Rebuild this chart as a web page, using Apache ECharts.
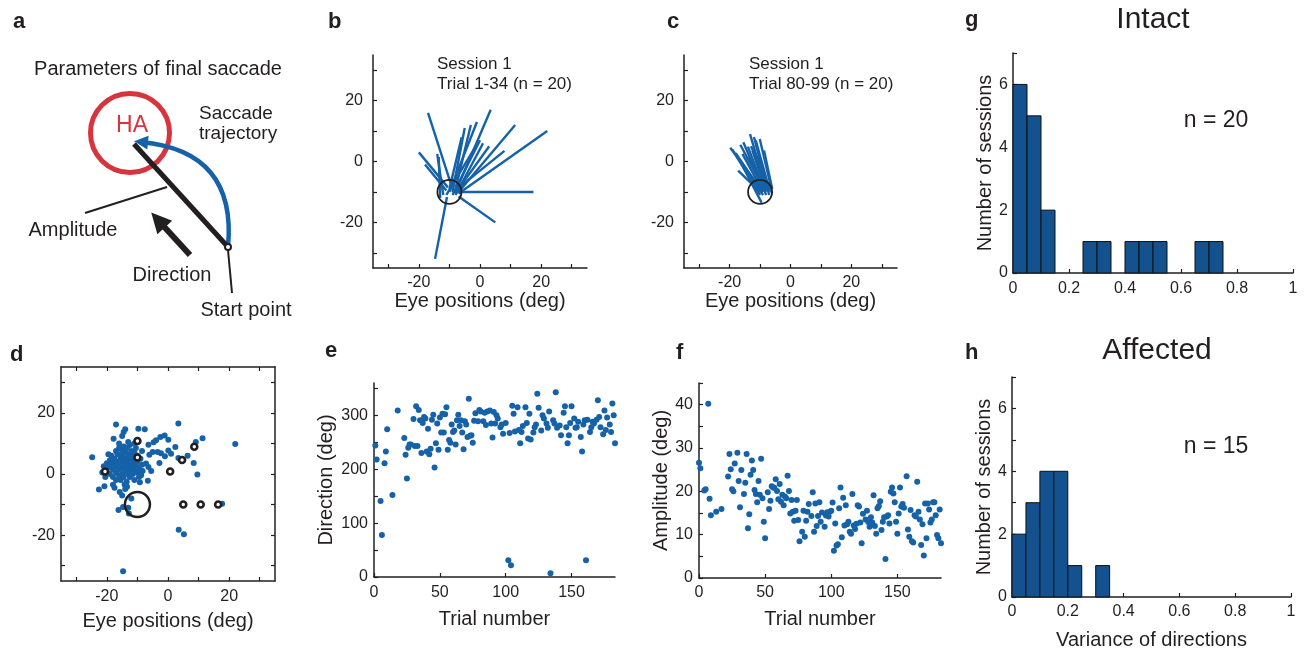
<!DOCTYPE html>
<html lang="en">
<head>
<meta charset="UTF-8">
<title>Final saccade parameters</title>
<style>
  html, body { margin: 0; padding: 0; background: #fff; }
  #chart { width: 1309px; height: 654px; }
</style>
</head>
<body>
<div id="chart"></div>
<script src="https://cdn.jsdelivr.net/npm/echarts@6/dist/echarts.min.js"></script>
<script>
const FONT = '"Liberation Sans", Arial, Helvetica, sans-serif';
const INK = '#231f20';
const BLUE = '#1662a8';
const BAR = '#13518f';
const RED = '#d7353d';

// ---- panel a : schematic, drawing units (x right, y down)
const haCenter = [130, 133];
const startPoint = [228, 247];
const vectorEnd = [134, 144];
const arcEnd = [141, 142];
const amplitudePointer = [[167, 187], [85, 213]];
const startPointer = [[228, 250], [232, 293]];
const directionArrow = [[190, 255], [158, 220]];

// ---- panels b, c : saccade vectors (deg)
const targetPos = [-10, -10];
const bStart = [[-17, 16], [3.5, 17], [11.5, 12], [22, 10], [-20, 3], [-18, -1], [-14, 2.5], [-5, 11], [-3, 12], [-1, 13],
  [0, 7], [1, 6], [3, 5], [8, 3.5], [17.5, -10], [5, -20], [-14.7, -32], [-6, 8], [-2, 4], [-13.5, 1.5]];
const bEnd = [[-9, -9], [-8, -10], [-7, -10], [-7, -10.5], [-10.5, -8.5], [-11, -9.5], [-12, -11], [-9, -10], [-8, -9], [-10, -10],
  [-9, -11], [-8, -11], [-7, -9], [-8, -9.5], [-9, -10], [-7, -11.5], [-10.8, -11.7], [-10, -9], [-11, -11], [-13, -12]];
const cStart = [[-19.8, 4.5], [-13.3, 9], [-10.1, 7.4], [-15.5, 6.3], [-18, 2.7], [-17.2, -3], [-15.8, 2.5], [-19.1, 3.9], [-11.4, 6.9], [-12.5, 3.6],
  [-8.7, 3.6], [-14, 4.9], [-17.4, 1.4], [-14.3, 1.4], [-10.9, 0.3], [-16.5, 5.5], [-12, 8], [-13, 5], [-16, -1], [-11, 2]];
const cEnd = [[-9, -10], [-8, -9], [-6.5, -8], [-9, -9], [-10, -9], [-10, -10], [-9, -10], [-10, -11], [-7, -9], [-8, -10],
  [-6, -9], [-8, -11], [-9, -11], [-7, -10], [-6, -10.5], [-8.5, -9.5], [-7, -11], [-6.5, -9.5], [-9.5, -13.5], [-8, -8.5]];
const eyeTicks = [-30, -20, -10, 0, 10, 20, 30];
const eyeLabels = [-20, 0, 20];

// ---- panel d : end points of final saccades (deg)
const dPoints = [[-17.0, 16.2], [-14.0, 14.6], [-14.5, 13.7], [-9.7, 14.8], [-7.6, 14.6], [3.4, 16.5], [-17.8, 11.5], [-15.0, 12.4],
  [11.3, 11.7], [22.0, 9.8], [9.1, 10.5], [-1.1, 12.6], [-2.5, 12.1], [-3.9, 11.0], [-4.7, 10.4], [0.1, 11.2], [-6.4, 9.6],
  [2.4, 8.8], [0.1, 7.7], [1.0, 6.6], [-1.0, 5.8], [-2.3, 6.8], [-3.4, 7.2], [-5.0, 7.2], [-6.1, 6.3], [6.4, 6.0], [3.4, 5.2],
  [8.4, 3.6], [9.6, -0.2], [-2.8, 3.6], [-5.5, 1.0], [-7.2, 3.4], [-6.4, 2.3], [-8.3, 1.0], [-8.8, -0.4], [-6.6, -2.2],
  [-9.2, -2.7], [-24.8, 5.5], [-22.6, -5.1], [-20.8, -4.0], [-15.8, -5.9], [-14.2, -3.4], [-14.0, -4.9], [-13.4, -4.2],
  [-16.2, -11.8], [-14.7, -10.8], [-12.8, -12.9], [17.7, -9.7], [3.5, -18.2], [5.2, -19.7], [-14.7, -31.8],
  [-21, 2.5], [-20, 1.5], [-20, 3.5], [-19, 0], [-19, 2.5], [-19, 4.5], [-18.5, 6], [-18, -1], [-18, 1.5], [-18, 3.5],
  [-17.5, 5], [-17, 7.5], [-17, 0.5], [-17, 2.5], [-17, -2], [-16.5, 4], [-16.5, 6.5], [-16, -0.5], [-16, 1.5], [-16, 3],
  [-16, 8.5], [-15.5, 5], [-15.5, -2], [-15, 0], [-15, 2], [-15, 4], [-15, 6], [-15, 7.5], [-14.5, 9], [-14.5, -1],
  [-14.5, 3], [-14, 1], [-14, 5], [-14, 7], [-13.5, -2.5], [-13.5, 2], [-13.5, 4], [-13.5, 8.5], [-13, 0], [-13, 3],
  [-13, 5.5], [-13, 6.5], [-12.5, 1.5], [-12.5, -1], [-12.5, 4.5], [-12.5, 9.5], [-12, 2.5], [-12, 6], [-12, 7.5],
  [-11.5, 0], [-11.5, 3.5], [-11.5, 5], [-11, 1.5], [-11, -2], [-11, 7], [-10.5, 3], [-10.5, 8.5], [-10, 0.5], [-10, 4],
  [-10, 6], [-9.5, 2], [-9.5, -1], [-9, 5], [-8.5, 7.5], [-8.5, 3], [-18, -3.5], [-17.5, -4.5], [-21.5, 0.5], [-20.5, -1],
  [-19.5, 6.5], [-16, 10], [-13, 10.5], [-11, 10], [-15, -7], [-12, -8], [-13, -11]];
const dRings = [[-20.6, 0.8], [-10, 10.8], [-10, 5.4], [0.7, 0.8], [4.6, 4.6], [8.6, 8.9], [5, -10], [10.7, -10], [16.4, -10]];

// ---- panel e : direction per trial
const eData = [[1, 244], [2, 218], [5, 141], [6, 78], [8, 211], [9, 233], [10, 274], [14, 152], [18, 309], [23, 258], [24, 227],
  [25, 183], [26, 240], [27, 246], [28, 246], [30, 293], [31, 243], [32, 317], [33, 243], [34, 310], [35, 291], [36, 230],
  [37, 286], [38, 297], [39, 294], [40, 233], [41, 275], [42, 228], [43, 238], [44, 292], [45, 301], [46, 203], [47, 248],
  [48, 285], [49, 236], [50, 296], [51, 268], [52, 303], [53, 268], [54, 302], [55, 315], [56, 236], [57, 254], [58, 249],
  [59, 283], [60, 269], [61, 272], [62, 246], [63, 291], [64, 301], [65, 280], [66, 291], [67, 268], [68, 237], [69, 289],
  [70, 283], [71, 260], [72, 331], [73, 262], [74, 263], [75, 249], [76, 290], [77, 304], [79, 289], [80, 310], [81, 307],
  [83, 289], [84, 305], [85, 282], [86, 307], [88, 309], [89, 285], [90, 259], [91, 306], [92, 285], [93, 300], [94, 294],
  [96, 278], [97, 283], [98, 266], [100, 286], [102, 31], [103, 267], [104, 22], [105, 318], [106, 303], [107, 270],
  [109, 315], [110, 273], [111, 248], [112, 269], [113, 280], [115, 315], [116, 286], [117, 257], [118, 303], [119, 255],
  [121, 268], [122, 278], [123, 283], [124, 340], [125, 314], [127, 272], [128, 300], [129, 294], [131, 285], [132, 277],
  [133, 307], [134, 7], [136, 291], [137, 285], [138, 343], [139, 277], [141, 281], [142, 263], [144, 305], [145, 317],
  [146, 278], [147, 248], [148, 263], [149, 286], [150, 317], [152, 294], [153, 277], [154, 278], [155, 288], [157, 260],
  [158, 233], [159, 283], [160, 291], [161, 31], [162, 292], [164, 269], [165, 278], [166, 288], [167, 285], [169, 292],
  [170, 328], [171, 297], [172, 278], [174, 265], [175, 309], [176, 273], [177, 296], [179, 283], [180, 269], [181, 322],
  [182, 300], [183, 248]];
const trialTicks = [0, 50, 100, 150];
const dirTicks = [0, 50, 100, 150, 200, 250, 300, 350];
const dirLabels = [0, 100, 200, 300];

// ---- panel f : amplitude per trial
const fData = [[0, 26.6], [1, 25.3], [4, 20.2], [5, 20.5], [7, 40.2], [8, 18.3], [9, 14.5], [13, 15.3], [17, 15.9], [22, 23.4],
  [23, 28.6], [24, 25.1], [25, 20.5], [26, 20.0], [27, 26.4], [29, 28.9], [30, 22.4], [31, 16.3], [32, 24.9], [34, 19.4],
  [35, 22.0], [36, 28.6], [37, 11.5], [38, 14.7], [39, 23.8], [40, 27.1], [41, 24.9], [42, 20.3], [43, 19.4], [44, 17.5],
  [45, 22.4], [46, 19.2], [47, 27.5], [48, 18.4], [49, 13.0], [50, 9.2], [52, 19.8], [53, 15.9], [54, 17.8], [55, 21.2],
  [56, 20.9], [57, 20.8], [58, 22.8], [59, 20.1], [60, 18.2], [61, 21.7], [62, 17.6], [63, 19.2], [64, 16.8], [65, 18.8],
  [66, 18.4], [67, 23.6], [68, 20.1], [69, 14.9], [70, 18.0], [71, 15.3], [72, 13.2], [73, 15.5], [74, 18.0], [75, 13.4],
  [76, 8.5], [78, 10.7], [79, 15.5], [80, 9.5], [81, 13.2], [82, 15.3], [83, 17.1], [85, 14.3], [86, 19.8], [87, 10.7],
  [88, 17.2], [89, 12.0], [90, 14.3], [91, 17.5], [92, 13.0], [93, 15.1], [95, 11.8], [96, 14.4], [97, 15.2], [98, 14.2],
  [99, 15.3], [100, 15.5], [101, 17.4], [102, 6.3], [103, 12.6], [104, 7.5], [105, 7.8], [106, 16.1], [107, 20.9], [108, 9.4],
  [109, 18.5], [110, 12.1], [111, 16.8], [112, 12.4], [113, 13.0], [114, 10.7], [115, 10.2], [116, 19.4], [117, 12.1],
  [118, 11.3], [119, 12.5], [120, 16.8], [121, 16.5], [122, 12.8], [123, 8.0], [124, 14.8], [126, 13.5], [127, 15.5],
  [128, 12.9], [129, 11.8], [130, 14.0], [131, 12.8], [132, 19.1], [133, 12.0], [134, 10.2], [135, 16.1], [136, 16.6],
  [137, 17.7], [138, 11.1], [139, 13.0], [140, 14.0], [141, 4.4], [142, 14.2], [143, 14.5], [144, 12.6], [145, 19.9],
  [146, 20.9], [147, 19.5], [148, 17.5], [149, 13.0], [150, 10.2], [151, 14.9], [152, 20.9], [153, 16.5], [154, 17.1],
  [155, 16.2], [157, 23.5], [158, 11.2], [159, 9.5], [160, 15.7], [161, 8.5], [162, 8.2], [163, 14.5], [164, 14.2],
  [165, 22.2], [166, 15.3], [167, 13.5], [168, 7.6], [169, 12.4], [170, 5.2], [171, 17.2], [172, 9.2], [173, 17.2],
  [174, 15.8], [175, 12.8], [176, 13.5], [177, 17.5], [178, 17.5], [179, 14.5], [180, 9.9], [181, 9.2], [182, 15.8], [183, 8.0]];
const ampTicks = [0, 5, 10, 15, 20, 25, 30, 35, 40, 45];
const ampLabels = [0, 10, 20, 30, 40];

// ---- panels g, h : histograms of direction variance
const binWidth = 0.05;
const gBins = [0, 0.05, 0.10, 0.25, 0.30, 0.40, 0.45, 0.50, 0.65, 0.70];
const gCounts = [6, 5, 2, 1, 1, 1, 1, 1, 1, 1];
const hBins = [0, 0.05, 0.10, 0.15, 0.20, 0.30];
const hCounts = [2, 3, 4, 4, 1, 1];
const varTicks = [0, 0.2, 0.4, 0.6, 0.8, 1];
const countTicks = [0, 1, 2, 3, 4, 5, 6, 7];
const countLabels = [0, 2, 4, 6];

const chart = echarts.init(document.getElementById('chart'));

function vAxis(gi, min, max, ticks, labels, o) {
  o = o || {};
  return {
    type: 'value', gridIndex: gi, min: min, max: max, position: o.position,
    name: o.name || '', nameLocation: 'middle', nameGap: o.gap || 0,
    nameTextStyle: { color: INK, fontSize: 20, fontFamily: FONT },
    axisLine: { show: true, onZero: false, lineStyle: { color: INK, width: 1.5 } },
    axisTick: { show: true, inside: true, length: 4, customValues: ticks, lineStyle: { color: INK, width: 1.2 } },
    axisLabel: { show: labels.length > 0, customValues: labels, margin: o.margin || 7, color: INK, fontSize: 16, fontFamily: FONT },
    splitLine: { show: false }
  };
}

function hidden(gi, min, max, inv) {
  return { type: 'value', gridIndex: gi, min: min, max: max, inverse: !!inv, show: false, splitLine: { show: false } };
}

const grids = [
  { left: 0, top: 0, width: 320, height: 330 },
  { left: 373, top: 55, width: 214, height: 213 },
  { left: 684, top: 55, width: 213, height: 213 },
  { left: 61, top: 367, width: 214, height: 214 },
  { left: 374, top: 383, width: 241, height: 194 },
  { left: 699, top: 383, width: 242, height: 195 },
  { left: 1013, top: 53, width: 280, height: 220 },
  { left: 1012, top: 377, width: 279, height: 220 }
].map(g => Object.assign({ containLabel: false, outerBoundsMode: 'none' }, g));

const xAxes = [
  hidden(0, 0, 320),
  vAxis(1, -35, 35, eyeTicks, eyeLabels, { name: 'Eye positions (deg)', gap: 19 }),
  vAxis(2, -35, 35, eyeTicks, eyeLabels, { name: 'Eye positions (deg)', gap: 19 }),
  vAxis(3, -35, 35, eyeTicks, eyeLabels, { name: 'Eye positions (deg)', gap: 30, margin: 8 }),
  vAxis(4, 0, 183, trialTicks, trialTicks, { name: 'Trial number', gap: 32, margin: 8 }),
  vAxis(5, 0, 183, trialTicks, trialTicks, { name: 'Trial number', gap: 31, margin: 7 }),
  vAxis(6, 0, 1, varTicks, varTicks, { margin: 8 }),
  vAxis(7, 0, 1, varTicks, varTicks, { name: 'Variance of directions', gap: 33, margin: 7 }),
  vAxis(3, -35, 35, eyeTicks, [], { position: 'top' })
];
const yAxes = [
  hidden(0, 0, 330, true),
  vAxis(1, -35, 35, eyeTicks, eyeLabels, { margin: 10 }),
  vAxis(2, -35, 35, eyeTicks, eyeLabels, { margin: 10 }),
  vAxis(3, -35, 35, eyeTicks, eyeLabels, { margin: 6 }),
  vAxis(4, 0, 360, dirTicks, dirLabels, { name: 'Direction (deg)', gap: 38, margin: 6 }),
  vAxis(5, 0, 45, ampTicks, ampLabels, { name: 'Amplitude (deg)', gap: 24, margin: 6 }),
  vAxis(6, 0, 7, countTicks, countLabels, { name: 'Number of sessions', gap: 17, margin: 5 }),
  vAxis(7, 0, 7, countTicks, countLabels, { name: 'Number of sessions', gap: 17, margin: 5 }),
  vAxis(3, -35, 35, eyeTicks, [], { position: 'right' })
];

function segs(a, b) {
  return a.map((p, i) => ({ coords: [p, b[i]] }));
}

function ring(ax, data, size, width, fill) {
  return {
    type: 'scatter', xAxisIndex: ax, yAxisIndex: ax, data: data, symbolSize: size, silent: true, z: 4,
    itemStyle: { color: fill || 'rgba(0,0,0,0)', borderColor: INK, borderWidth: width, opacity: 1 }
  };
}

function dots(ax, data) {
  return { type: 'scatter', xAxisIndex: ax, yAxisIndex: ax, data: data, symbolSize: 6, silent: true, itemStyle: { color: BLUE, opacity: 1 } };
}

function hist(ax, bins, counts) {
  return {
    type: 'custom', xAxisIndex: ax, yAxisIndex: ax, silent: true,
    data: bins.map((b, i) => [b, counts[i]]),
    encode: { x: 0, y: 1 },
    renderItem: function (params, api) {
      const p0 = api.coord([api.value(0), api.value(1)]);
      const p1 = api.coord([api.value(0) + binWidth, 0]);
      return { type: 'rect', shape: { x: p0[0], y: p0[1], width: p1[0] - p0[0], height: p1[1] - p0[1] },
        style: { fill: BAR, stroke: '#111', lineWidth: 1 } };
    }
  };
}

function lineSet(ax, data, color, width, extra) {
  return Object.assign({
    type: 'lines', coordinateSystem: 'cartesian2d', xAxisIndex: ax, yAxisIndex: ax, silent: true,
    data: data, symbol: 'none', lineStyle: { color: color, width: width, opacity: 1 }
  }, extra || {});
}

const series = [
  // a
  { type: 'scatter', xAxisIndex: 0, yAxisIndex: 0, data: [haCenter], symbolSize: 79, silent: true, z: 1,
    itemStyle: { color: 'rgba(0,0,0,0)', borderColor: RED, borderWidth: 5, opacity: 1 } },
  lineSet(0, [{ coords: [startPoint, arcEnd] }], BLUE, 4.5,
    { symbol: ['none', 'triangle'], symbolSize: [0, 14], lineStyle: { color: BLUE, width: 4.5, opacity: 1, curveness: -0.5 }, z: 2 }),
  lineSet(0, [{ coords: [startPoint, vectorEnd] }], INK, 5, { z: 3 }),
  lineSet(0, [{ coords: amplitudePointer }, { coords: startPointer }], INK, 2, { z: 3 }),
  lineSet(0, [{ coords: directionArrow }], INK, 6, { symbol: ['none', 'triangle'], symbolSize: [0, 20], z: 3 }),
  ring(0, [startPoint], 6, 2, '#fff'),
  // b
  lineSet(1, segs(bStart, bEnd), BLUE, 2.4),
  ring(1, [targetPos], 24, 1.8),
  // c
  lineSet(2, segs(cStart, cEnd), BLUE, 2.4),
  ring(2, [targetPos], 24, 1.8),
  // d
  dots(3, dPoints),
  ring(3, dRings, 6, 2.6, '#fff'),
  ring(3, [targetPos], 25, 2.5),
  // e, f
  dots(4, eData),
  dots(5, fData),
  // g, h
  hist(6, gBins, gCounts),
  hist(7, hBins, hCounts)
];

function txt(x, y, text, size, o) {
  o = o || {};
  const align = o.align || 'center';
  return {
    type: 'text', x: x, y: y, silent: true, z: 100,
    style: {
      text: text, fill: o.color || INK,
      font: (o.weight || 'normal') + ' ' + size + 'px ' + FONT,
      align: align, textAlign: align, verticalAlign: 'middle', textVerticalAlign: 'middle'
    }
  };
}

const bold = { weight: 'bold', align: 'left' };
const texts = [
  txt(13, 22, 'a', 22, bold), txt(328, 22, 'b', 22, bold), txt(667, 22, 'c', 22, bold), txt(965, 20, 'g', 22, bold),
  txt(10, 355, 'd', 22, bold), txt(325, 351, 'e', 22, bold), txt(676, 353, 'f', 22, bold), txt(965, 353, 'h', 22, bold),
  txt(158, 69, 'Parameters of final saccade', 20),
  txt(132, 126, 'HA', 23, { color: RED }),
  txt(199, 114, 'Saccade', 19, { align: 'left' }),
  txt(199, 134, 'trajectory', 19, { align: 'left' }),
  txt(73, 230, 'Amplitude', 20),
  txt(172, 275, 'Direction', 20),
  txt(246, 310, 'Start point', 20),
  txt(437, 64, 'Session 1', 17, { align: 'left' }),
  txt(437, 84, 'Trial 1-34 (n = 20)', 17, { align: 'left' }),
  txt(749, 64, 'Session 1', 17, { align: 'left' }),
  txt(749, 84, 'Trial 80-99 (n = 20)', 17, { align: 'left' }),
  txt(1153, 20, 'Intact', 30),
  txt(1157, 351, 'Affected', 30),
  txt(1216, 121, 'n = 20', 23),
  txt(1216, 447, 'n = 15', 23)
];

chart.setOption({
  animation: false,
  backgroundColor: '#fff',
  grid: grids,
  xAxis: xAxes,
  yAxis: yAxes,
  series: series,
  graphic: texts
});
</script>
</body>
</html>
